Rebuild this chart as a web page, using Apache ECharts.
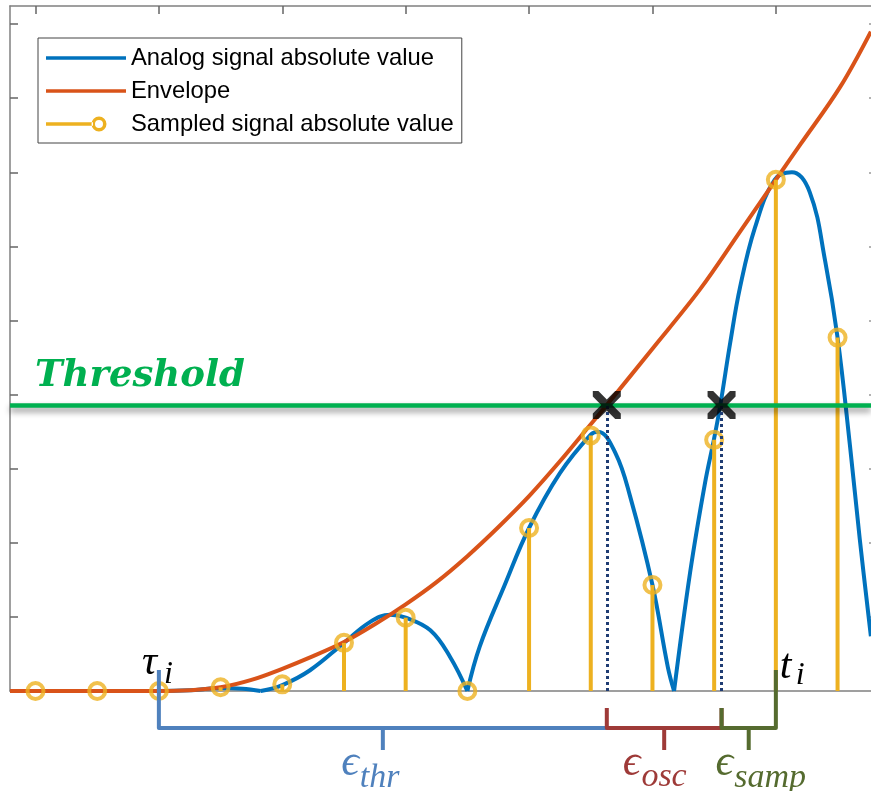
<!DOCTYPE html>
<html>
<head>
<meta charset="utf-8">
<script src="https://cdn.jsdelivr.net/npm/echarts@6/dist/echarts.min.js"></script>
<style>
html,body{margin:0;padding:0;background:#ffffff;}
#chart{width:871px;height:791px;}
</style>
</head>
<body>
<div id="chart"></div>
<script>
// ---------- data (x: sample index, y: tick units) ----------
const sampleX = [0, 1, 2, 3, 4, 5, 6, 7, 8, 9, 10, 11, 12, 13];
const sampleY = [0, 0, 0, 0.05, 0.09, 0.65, 0.99, 0, 2.2, 3.45, 1.43, 3.39, 6.9, 4.77];

const envelopeX = [-0.413, 2, 2.5, 3, 3.5, 4, 4.5, 5, 5.5, 6, 6.5, 7, 7.5, 8, 8.5, 9, 9.26, 10, 10.77, 11.42, 12, 12.4, 13.04, 13.54];
const envelopeY = [0, 0, 0.01, 0.05, 0.15, 0.3, 0.47, 0.66, 0.9, 1.17, 1.47, 1.82, 2.21, 2.63, 3.1, 3.6, 3.86, 4.62, 5.42, 6.2, 6.9, 7.38, 8.15, 8.9];

const analogX = [-0.413, 2, 2.5, 3, 3.35, 3.65, 4, 4.45, 5, 5.42, 5.75, 6, 6.4, 6.72, 7, 7.2, 7.6, 8, 8.5, 9, 9.12, 9.4, 9.64, 10, 10.25, 10.35, 10.61, 10.85, 11, 11.1, 11.26, 11.42, 11.66, 11.98, 12.26, 12.55, 12.8, 13, 13.2, 13.36, 13.54];
const analogY = [0, 0, 0.01, 0.04, 0.03, 0, 0.08, 0.28, 0.65, 0.93, 1.03, 0.99, 0.82, 0.46, 0, 0.6, 1.42, 2.2, 2.94, 3.46, 3.5, 3.21, 2.62, 1.43, 0.32, 0, 1.6, 2.8, 3.41, 3.86, 4.7, 5.45, 6.25, 6.9, 7.0, 6.73, 5.8, 4.77, 3.32, 2.05, 0.74];

const thresholdValue = 3.86;
const crossingX = [9.26, 11.12];
const tauX = 2;
const tX = 12;

const xTickValues = [0, 2, 4, 6, 8, 10, 12];
const yTickValues = [1, 2, 3, 4, 5, 6, 7, 8, 9];
const X_MIN = -0.413, X_MAX = 13.542, Y_MIN = 0, Y_MAX = 9.245;

const legendNames = ['Analog signal absolute value', 'Envelope', 'Sampled signal absolute value'];
const thresholdText = 'Threshold';

// ---------- styles ----------
const BLUE = '#0072BD', ORANGE = '#D95319', YELLOW = '#EDB120', GREEN = '#00B050';
const BR_BLUE = '#4F81BD', BR_RED = '#9E3A38', BR_GREEN = '#556B2F', DOT = '#1F3C73';
const AXIS = '#808080';

function splitLobes(xs, ys) {
  const lobes = []; let cur = [];
  for (let k = 0; k < xs.length; k++) {
    cur.push([xs[k], ys[k]]);
    const cusp = k > 0 && k < xs.length - 1 && ys[k] === 0 && ys[k - 1] > 0 && ys[k + 1] > 0;
    if (cusp) { lobes.push(cur); cur = [[xs[k], ys[k]]]; }
  }
  lobes.push(cur);
  return lobes;
}

const samples = sampleX.map((x, k) => [x, sampleY[k]]);
const envelope = envelopeX.map((x, k) => [x, envelopeY[k]]);
const lobes = splitLobes(analogX, analogY);

const XPATH = 'path://M0,0 L4,0 L10,6 L16,0 L20,0 L20,4 L14,10 L20,16 L20,20 L16,20 L10,14 L4,20 L0,20 L0,16 L6,10 L0,4 Z';
const ICON_BOX = 'M0,0 L0,0 M80,16 L80,16 ';
const LINE_ICON = 'path://' + ICON_BOX + 'M0,6.2 L80,6.2 L80,9.8 L0,9.8 Z';
const SAMPLE_ICON = 'path://' + ICON_BOX + 'M0,6.3 L47,6.3 L47,9.7 L0,9.7 Z ' +
  'M45.5,8 A7.5,7.5 0 1 0 60.5,8 A7.5,7.5 0 1 0 45.5,8 Z ' +
  'M49,8 A4,4 0 1 1 57,8 A4,4 0 1 1 49,8 Z';

const chart = echarts.init(document.getElementById('chart'), null, { renderer: 'canvas' });

const tickStyle = { color: '#666666', width: 1.5 };
const option = {
  animation: false,
  backgroundColor: '#ffffff',
  grid: { left: 10, right: 0, top: 6, bottom: 100, containLabel: false },
  xAxis: [
    { type: 'value', min: X_MIN, max: X_MAX, position: 'bottom',
      axisLine: { show: true, onZero: false, lineStyle: { color: AXIS, width: 1.5 } },
      axisTick: { show: false }, axisLabel: { show: false }, splitLine: { show: false } },
    { type: 'value', min: X_MIN, max: X_MAX, position: 'top',
      axisLine: { show: true, onZero: false, lineStyle: { color: AXIS, width: 1.5 } },
      axisTick: { show: true, inside: true, length: 8, customValues: xTickValues, lineStyle: tickStyle },
      axisLabel: { show: false }, splitLine: { show: false } }
  ],
  yAxis: [
    { type: 'value', min: Y_MIN, max: Y_MAX, position: 'left',
      axisLine: { show: true, onZero: false, lineStyle: { color: AXIS, width: 1.5 } },
      axisTick: { show: true, inside: true, length: 8, customValues: yTickValues, lineStyle: tickStyle },
      axisLabel: { show: false }, splitLine: { show: false } },
    { type: 'value', min: Y_MIN, max: Y_MAX, position: 'right',
      axisLine: { show: false, onZero: false },
      axisTick: { show: true, inside: true, length: 2, customValues: yTickValues, lineStyle: { color: '#999999', width: 1.5 } },
      axisLabel: { show: false }, splitLine: { show: false } }
  ],
  legend: {
    orient: 'vertical', left: 38, top: 38,
    padding: [8, 8, 7, 8], itemGap: 9, itemWidth: 80, itemHeight: 16,
    backgroundColor: '#ffffff', borderColor: '#444444', borderWidth: 1, borderRadius: 0,
    selectedMode: false,
    textStyle: { fontFamily: 'Liberation Sans, Arial, sans-serif', fontSize: 23.8, color: '#000', lineHeight: 24 },
    data: [
      { name: legendNames[0], icon: LINE_ICON, itemStyle: { color: BLUE, borderWidth: 0 } },
      { name: legendNames[1], icon: LINE_ICON, itemStyle: { color: ORANGE, borderWidth: 0 } },
      { name: legendNames[2], icon: SAMPLE_ICON, itemStyle: { color: YELLOW, borderWidth: 0 } }
    ]
  },
  series: [
    ...lobes.map(l => ({
      type: 'line', name: legendNames[0], data: l, smooth: 0.4, symbol: 'none', showSymbol: false,
      lineStyle: { color: BLUE, width: 4 }, itemStyle: { color: BLUE }, z: 2
    })),
    { type: 'line', name: legendNames[1], data: envelope, smooth: 0.35, symbol: 'none', showSymbol: false,
      lineStyle: { color: ORANGE, width: 4 }, itemStyle: { color: ORANGE }, z: 3 },
    { type: 'custom', name: legendNames[2], data: samples, z: 4,
      renderItem: function (params, api) {
        const p0 = api.coord([api.value(0), 0]);
        const p1 = api.coord([api.value(0), api.value(1)]);
        return { type: 'line', shape: { x1: p0[0], y1: p0[1], x2: p1[0], y2: p1[1] },
                 style: { stroke: YELLOW, lineWidth: 4 } };
      } },
    { type: 'scatter', name: legendNames[2], data: samples, symbol: 'circle', symbolSize: 16,
      itemStyle: { color: 'rgba(255,255,255,0)', borderColor: YELLOW, borderWidth: 4 }, z: 5 },
    { type: 'line', data: [], z: 6,
      markLine: { silent: true, symbol: 'none', z: 6, animation: false,
        data: [{ yAxis: thresholdValue }],
        lineStyle: { color: GREEN, width: 4.5, type: 'solid', shadowColor: 'rgba(0,0,0,0.45)', shadowBlur: 6, shadowOffsetY: 4 },
        label: { show: false } } },
    { type: 'scatter', data: crossingX.map(x => [x, thresholdValue]), symbol: XPATH, symbolSize: 28,
      itemStyle: { color: '#000000' }, z: 8,
      markLine: { silent: true, symbol: 'none', z: 7, animation: false,
        data: crossingX.map(x => [{ coord: [x, 0] }, { coord: [x, thresholdValue] }]),
        lineStyle: { color: DOT, width: 3, type: [3, 3] }, label: { show: false } } }
  ]
};
chart.setOption(option);

// ---------- annotations anchored on data coordinates ----------
const envIdx = lobes.length;
const toPx = (x, y) => chart.convertToPixel({ seriesIndex: envIdx }, [x, y]);
const mctx = document.createElement('canvas').getContext('2d');
function textW(t, font) { mctx.font = font; return mctx.measureText(t).width; }

const base = toPx(tauX, 0)[1];
const xa = toPx(tauX, 0)[0], xb = toPx(crossingX[0], 0)[0], xc = toPx(crossingX[1], 0)[0], xd = toPx(tX, 0)[0];
const yH = base + 37, yN = base + 59, yE = base + 17, yM = base - 21;
const thrPx = toPx(X_MIN, thresholdValue);

function poly(points, color, w) {
  return { type: 'polyline', z: 100, shape: { points: points },
    style: { stroke: color, lineWidth: w || 4, fill: null, lineJoin: 'round', lineCap: 'butt' } };
}
const MATH_FAMILY = '"Liberation Serif", "DejaVu Serif", serif';
function txt(str, x, baseline, size, color, family, weight) {
  return { type: 'text', z: 101, style: { text: str, x: x, y: baseline - 0.3 * size,
    fontFamily: family || MATH_FAMILY, fontStyle: 'italic', fontWeight: weight || 'normal',
    fontSize: size, fill: color, align: 'left', verticalAlign: 'middle' } };
}
function mathLabel(cx, main, sub, color, mainSize, subSize, mainBase, subBase, spacing) {
  const f1 = 'italic ' + mainSize + 'px ' + MATH_FAMILY, f2 = 'italic ' + subSize + 'px ' + MATH_FAMILY;
  const w1 = textW(main, f1), w2 = textW(sub, f2) + spacing * (sub.length - 1);
  const left = cx - (w1 + w2) / 2;
  const el = txt(sub, left + w1 + 1, subBase, subSize, color);
  if (spacing) el.style.letterSpacing = spacing;
  return [txt(main, left, mainBase, mainSize, color), el];
}

const graphics = [
  poly([[xa, yM], [xa, yH], [xb, yH]], BR_BLUE),
  poly([[(xa + xb) / 2, yH], [(xa + xb) / 2, yN]], BR_BLUE),
  poly([[xb, yE], [xb, yH], [xc, yH], [xc, yE]], BR_RED),
  poly([[(xb + xc) / 2, yH], [(xb + xc) / 2, yN]], BR_RED),
  poly([[xc, yE], [xc, yH], [xd, yH], [xd, yM]], BR_GREEN),
  poly([[(xc + xd) / 2, yH], [(xc + xd) / 2, yN]], BR_GREEN),
  txt('τ', xa - 17, base - 15, 42, '#000'),
  txt('i', xa + 5, base - 7, 32, '#000'),
  txt('t', xd + 4, base - 11, 42, '#000'),
  txt('i', xd + 20, base - 6, 32, '#000'),
  ...mathLabel((xa + xb) / 2 - 5, 'ϵ', 'thr', BR_BLUE, 44, 34, base + 86, base + 97, 8),
  ...mathLabel((xb + xc) / 2 - 10, 'ϵ', 'osc', BR_RED, 44, 34, base + 86, base + 96, 0),
  ...mathLabel((xc + xd) / 2 + 13, 'ϵ', 'samp', BR_GREEN, 44, 34, base + 86, base + 97, 1),
  txt(thresholdText, thrPx[0] + 25, thrPx[1] - 18, 37, GREEN, '"DejaVu Serif", serif', 'bold')
];
chart.setOption({ graphic: graphics });
</script>
</body>
</html>
